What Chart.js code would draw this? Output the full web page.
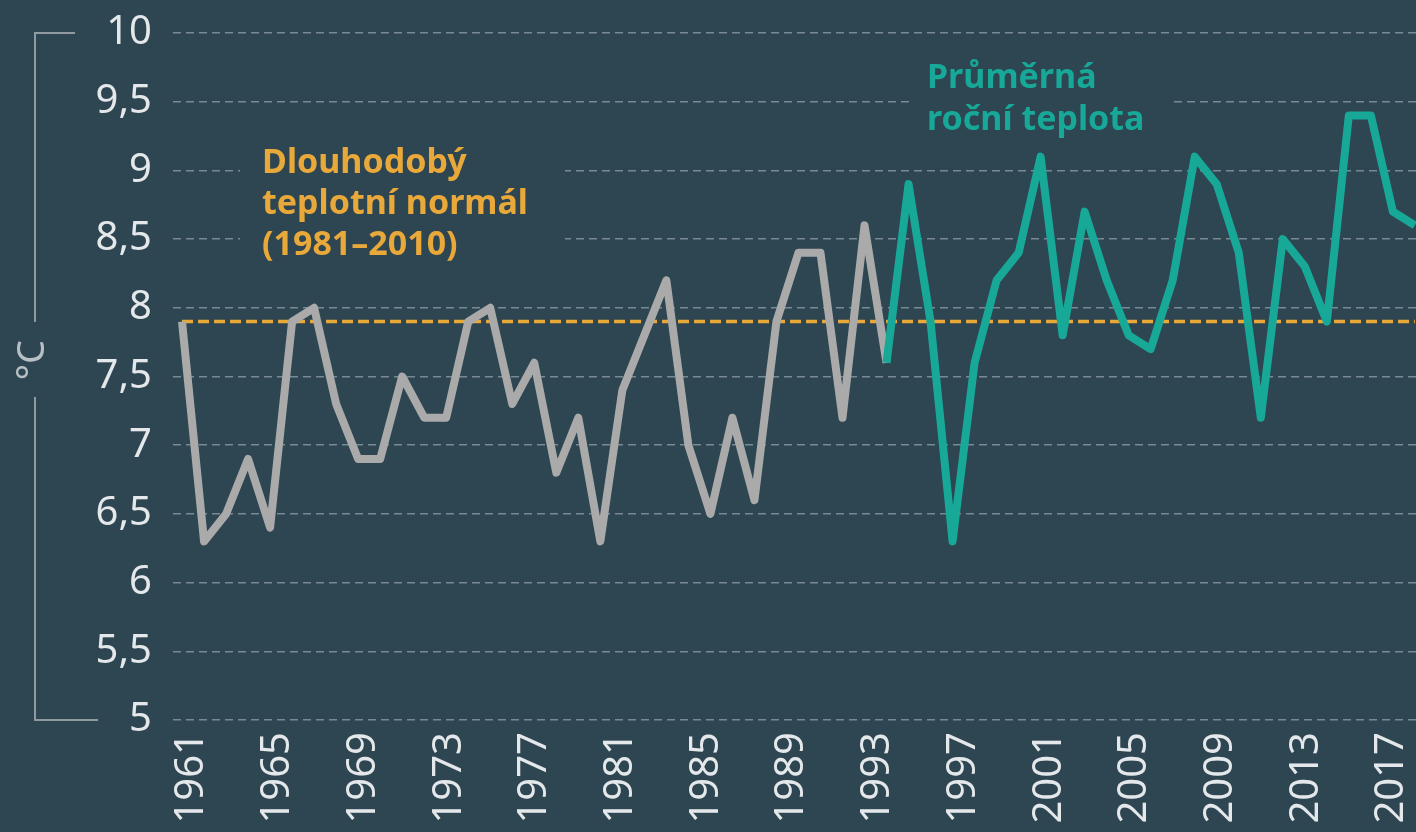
<!DOCTYPE html>
<html lang="cs">

<head>
    <meta charset="utf-8">
    <title>Průměrná roční teplota</title>
    <script src="https://cdn.jsdelivr.net/npm/chart.js"></script>
    <style>
        body {
            margin: 0;
            padding: 0;
            background-color: #2e4552;
            overflow: hidden;
        }

        #wrap {
            width: 1416px;
            height: 832px;
        }
    </style>
</head>

<body>
    <div id="wrap"><canvas id="tempChart" width="1416" height="832"></canvas></div>

    <script>
        // Data
        const years = [1961, 1962, 1963, 1964, 1965, 1966, 1967, 1968, 1969, 1970,
            1971, 1972, 1973, 1974, 1975, 1976, 1977, 1978, 1979, 1980,
            1981, 1982, 1983, 1984, 1985, 1986, 1987, 1988, 1989, 1990,
            1991, 1992, 1993, 1994, 1995, 1996, 1997, 1998, 1999, 2000,
            2001, 2002, 2003, 2004, 2005, 2006, 2007, 2008, 2009, 2010,
            2011, 2012, 2013, 2014, 2015, 2016, 2017];
        const temps = [7.9, 6.3, 6.5, 6.9, 6.4, 7.9, 8.0, 7.3, 6.9, 6.9,
            7.5, 7.2, 7.2, 7.9, 8.0, 7.3, 7.6, 6.8, 7.2, 6.3,
            7.4, 7.8, 8.2, 7.0, 6.5, 7.2, 6.6, 7.9, 8.4, 8.4,
            7.2, 8.6, 7.6, 8.9, 7.9, 6.3, 7.6, 8.2, 8.4, 9.1,
            7.8, 8.7, 8.2, 7.8, 7.7, 8.2, 9.1, 8.9, 8.4, 7.2,
            8.5, 8.3, 7.9, 9.4, 9.4, 8.7, 8.6];
        const splitYear = 1993;   // grey up to here, teal from here on
        const normalTemp = 7.9;   // long-term normal 1981-2010
        const tickYears = [1961, 1965, 1969, 1973, 1977, 1981, 1985, 1989, 1993,
            1997, 2001, 2005, 2009, 2013, 2017];

        const BG = '#2e4552';
        const GREY = '#aaaaaa';
        const TEAL = '#17a898';
        const ORANGE = '#e9a93a';
        const LABEL = '#e4e8ea';

        Chart.defaults.font.family = "'Noto Sans', sans-serif";

        const oldSeries = years.map((yr, i) => ({ x: yr, y: yr <= splitYear ? temps[i] : null }));
        const newSeries = years.map((yr, i) => ({ x: yr, y: yr >= splitYear ? temps[i] : null }));
        const normalSeries = [years[0], years[years.length - 1]].map(yr => ({ x: yr, y: normalTemp }));

        // annotation texts, cut out of the grid with a background box
        const notes = {
            id: 'notes',
            beforeDatasetsDraw(chart) {
                const ctx = chart.ctx;
                ctx.save();
                ctx.fillStyle = BG;
                ctx.fillRect(240, 122, 325, 160);
                ctx.fillRect(910, 46, 262, 110);
                ctx.font = "bold 34px 'Noto Sans', sans-serif";
                ctx.textBaseline = 'alphabetic';
                ctx.textAlign = 'left';
                ctx.fillStyle = ORANGE;
                ctx.fillText('Dlouhodobý', 262, 173);
                ctx.fillText('teplotní normál', 262, 214);
                ctx.fillText('(1981–2010)', 262, 255);
                ctx.fillStyle = TEAL;
                ctx.fillText('Průměrná', 927, 88);
                ctx.fillText('roční teplota', 927, 130);
                ctx.restore();
            }
        };

        // bracket with °C along the left side
        const bracket = {
            id: 'bracket',
            afterDraw(chart) {
                const ctx = chart.ctx;
                const y = chart.scales.y;
                ctx.save();
                ctx.strokeStyle = '#909ba1';
                ctx.lineWidth = 2;
                ctx.beginPath();
                ctx.moveTo(75, y.top);
                ctx.lineTo(35, y.top);
                ctx.lineTo(35, 322);
                ctx.moveTo(35, 397);
                ctx.lineTo(35, y.bottom);
                ctx.lineTo(98, y.bottom);
                ctx.stroke();
                ctx.translate(33, 360);
                ctx.rotate(-Math.PI / 2);
                ctx.fillStyle = '#b9c0c4';
                ctx.font = "38px 'Noto Sans', sans-serif";
                ctx.textAlign = 'center';
                ctx.textBaseline = 'middle';
                ctx.fillText('°C', 0, 0);
                ctx.restore();
            }
        };

        const ctx = document.getElementById('tempChart').getContext('2d');
        new Chart(ctx, {
            type: 'line',
            data: {
                datasets: [{
                    label: 'Průměrná roční teplota',
                    data: oldSeries,
                    borderColor: GREY,
                    borderWidth: 8,
                    borderJoinStyle: 'round',
                    pointRadius: 0,
                    spanGaps: false,
                    order: 1
                }, {
                    label: 'Průměrná roční teplota (od 1993)',
                    data: newSeries,
                    borderColor: TEAL,
                    borderWidth: 8,
                    borderJoinStyle: 'round',
                    pointRadius: 0,
                    spanGaps: false,
                    order: 0
                }, {
                    label: 'Dlouhodobý teplotní normál',
                    data: normalSeries,
                    borderColor: ORANGE,
                    borderWidth: 3.5,
                    borderDash: [11, 5],
                    pointRadius: 0,
                    order: 2
                }]
            },
            options: {
                responsive: false,
                animation: false,
                layout: { padding: { top: 33, left: 0, right: 0, bottom: 0 } },
                plugins: {
                    legend: { display: false },
                    tooltip: { enabled: false }
                },
                scales: {
                    x: {
                        type: 'linear',
                        display: false,
                        min: 1960.59,
                        max: 2017.05
                    },
                    // tick labels of the year axis (drawn a bit tighter than the data, as in the original)
                    xt: {
                        type: 'linear',
                        position: 'bottom',
                        min: 1960.11,
                        max: 2018.12,
                        grid: { display: false, drawTicks: false },
                        border: { display: false },
                        afterBuildTicks: s => { s.ticks = tickYears.map(v => ({ value: v })); },
                        afterFit: s => { s.height = 112; s.paddingLeft = 0; s.paddingRight = 0; },
                        ticks: {
                            autoSkip: false,
                            minRotation: 90,
                            maxRotation: 90,
                            padding: 12,
                            color: LABEL,
                            font: { size: 40 },
                            callback: v => String(v)
                        }
                    },
                    y: {
                        min: 5,
                        max: 10,
                        afterFit: s => { s.width = 173; s.paddingTop = 0; s.paddingBottom = 0; },
                        grid: {
                            color: 'rgba(170, 185, 192, 0.6)',
                            lineWidth: 1.5,
                            drawTicks: false
                        },
                        border: { display: false, dash: [8, 5] },
                        ticks: {
                            stepSize: 0.5,
                            padding: 21,
                            color: LABEL,
                            font: { size: 40 },
                            callback: v => String(v).replace('.', ',')
                        }
                    }
                }
            },
            plugins: [notes, bracket]
        });
    </script>

</body>

</html>
